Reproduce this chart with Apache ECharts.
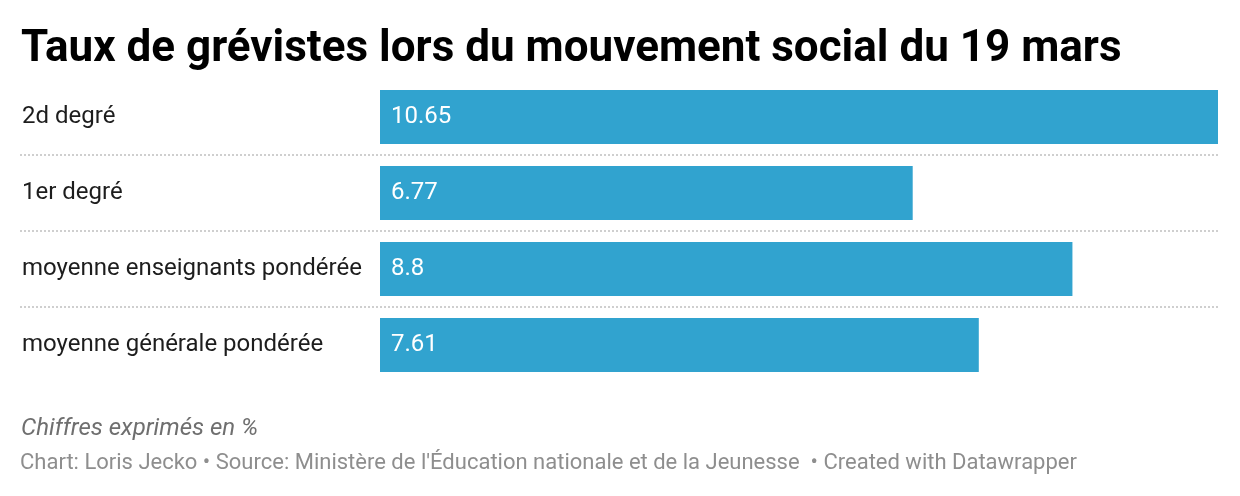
<!DOCTYPE html>
<html>
<head>
<meta charset="utf-8">
<script src="https://cdn.jsdelivr.net/npm/echarts@6/dist/echarts.min.js"></script>
<style>
html,body{margin:0;padding:0;background:#fff;}
#chart{width:1240px;height:496px;}
</style>
</head>
<body>
<div id="chart"></div>
<script>
const categories = ["2d degré", "1er degré", "moyenne enseignants pondérée", "moyenne générale pondérée"];
const values = [10.65, 6.77, 8.8, 7.61];
const titleText = "Taux de grévistes lors du mouvement social du 19 mars";
const noteText = "Chiffres exprimés en %";
const footerText = "Chart: Loris Jecko • Source: Ministère de l'Éducation nationale et de la Jeunesse  • Created with Datawrapper";

const chart = echarts.init(document.getElementById('chart'), null, {renderer: 'canvas'});
const font = 'Roboto, "Noto Sans", sans-serif';
chart.setOption({
  animation: false,
  backgroundColor: '#ffffff',
  title: [
    {text: titleText, left: 16, top: 23, textStyle: {fontFamily: font, fontSize: 44, fontWeight: 'bold', color: '#000'}},
    {text: noteText, left: 16, top: 412, textStyle: {fontFamily: font, fontSize: 24, fontStyle: 'italic', fontWeight: 'normal', color: '#6f6f6f'}},
    {text: footerText, left: 15, top: 447, textStyle: {fontFamily: font, fontSize: 22, fontWeight: 'normal', color: '#8e8e8e'}}
  ],
  grid: [
    {left: 20, right: 22, top: 79, height: 304, containLabel: false},
    {left: 380, right: 22, top: 79, height: 304, containLabel: false}
  ],
  xAxis: [
    {gridIndex: 0, type: 'value', min: 0, max: 1, show: false},
    {gridIndex: 1, type: 'value', min: 0, max: 10.65, show: false}
  ],
  yAxis: [
    {gridIndex: 0, type: 'category', data: categories, inverse: true,
     axisLine: {show: false}, axisTick: {show: false}, axisLabel: {show: false},
     splitLine: {show: true, showMinLine: false, showMaxLine: false,
                 lineStyle: {color: '#cfcfcf', width: 2, type: [2, 2]}}},
    {gridIndex: 1, type: 'category', data: categories, inverse: true,
     axisLine: {show: false}, axisTick: {show: false}, splitLine: {show: false},
     axisLabel: {show: true, align: 'left', margin: 358, fontFamily: font, fontSize: 24, color: '#1d1d1d'}}
  ],
  series: [{
    type: 'bar',
    xAxisIndex: 1, yAxisIndex: 1,
    data: values,
    barWidth: 54,
    itemStyle: {color: '#31a3cf'},
    label: {show: true, position: 'insideLeft', distance: 11, color: '#ffffff', fontFamily: font, fontSize: 24,
            formatter: p => String(p.value)}
  }]
});
</script>
</body>
</html>
